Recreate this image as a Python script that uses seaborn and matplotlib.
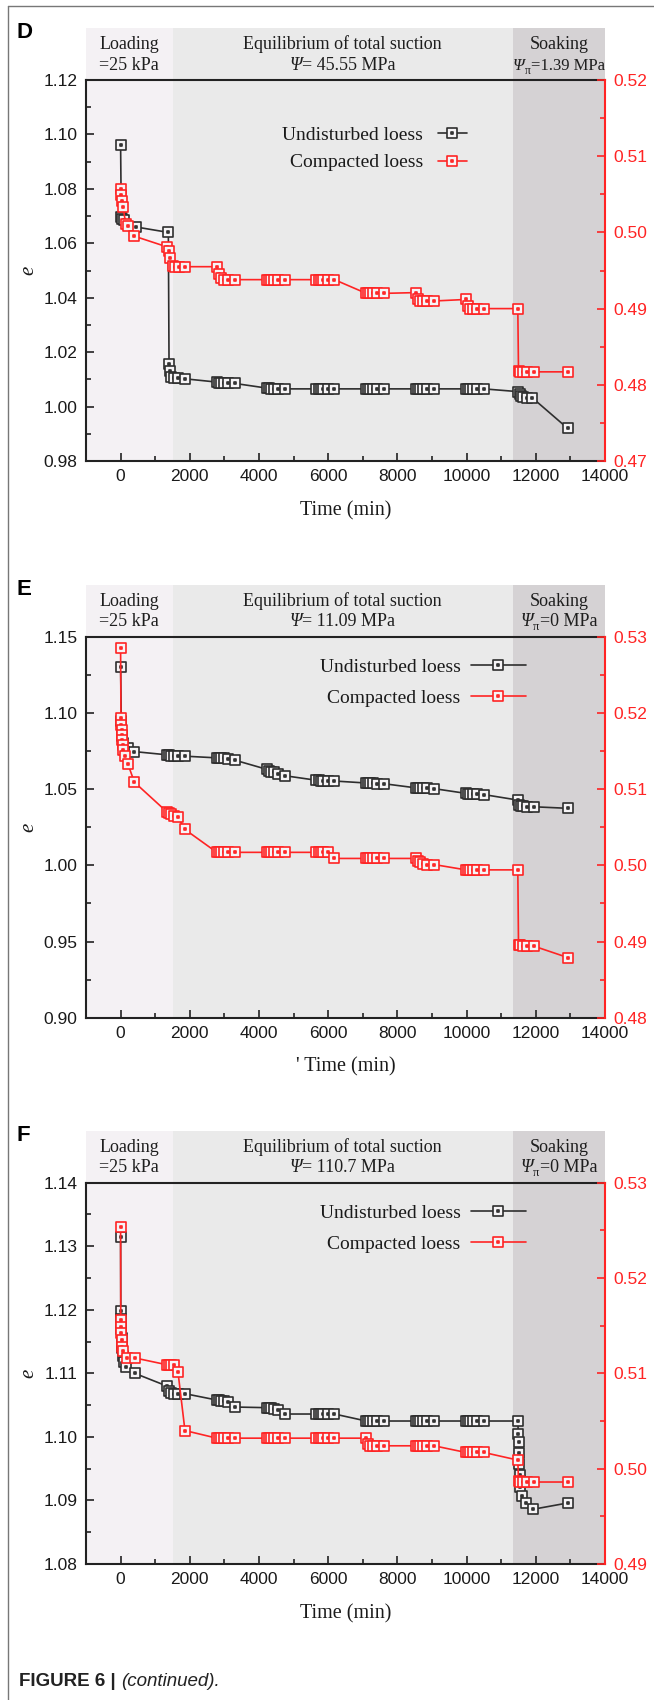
import matplotlib
matplotlib.use("Agg")
import matplotlib.pyplot as plt
import matplotlib.transforms as mtrans
import seaborn as sns
import pandas as pd
from matplotlib.path import Path
from matplotlib.patches import Rectangle
from matplotlib.lines import Line2D
from matplotlib.ticker import MultipleLocator, FormatStrFormatter

# ---------------- data ----------------
# Panel D (Psi = 45.55 MPa)
d_und_t = [0, 20, 50, 100, 440, 1380, 1400, 1420, 1460, 1540, 1660, 1860,
           2780, 2840, 2900, 2980, 3100, 3300,
           4220, 4280, 4340, 4420, 4540, 4740,
           5660, 5720, 5780, 5860, 5980, 6180,
           7100, 7160, 7220, 7300, 7420, 7620,
           8540, 8600, 8660, 8740, 8860, 9060,
           9980, 10040, 10100, 10180, 10300, 10500,
           11480, 11540, 11580, 11640, 11740, 11900,
           12920]
d_und_e = [1.096, 1.0695, 1.069, 1.0685, 1.066, 1.064, 1.0155, 1.013, 1.011, 1.0105, 1.0104, 1.0102,
           1.0090, 1.0088, 1.0087, 1.0086, 1.0085, 1.0085,
           1.0068, 1.0067, 1.0066, 1.0066, 1.0065, 1.0065,
           1.0065, 1.0065, 1.0065, 1.0065, 1.0065, 1.0065,
           1.0065, 1.0065, 1.0065, 1.0065, 1.0065, 1.0065,
           1.0065, 1.0065, 1.0065, 1.0065, 1.0065, 1.0065,
           1.0065, 1.0065, 1.0065, 1.0065, 1.0065, 1.0065,
           1.0055, 1.0045, 1.0038, 1.0035, 1.0033, 1.0032,
           0.992]
d_cmp_t = [0, 15, 35, 70, 150, 220, 400, 1340, 1400, 1440, 1500, 1580, 1680, 1860,
           2780, 2840, 2900, 2980, 3100, 3300,
           4220, 4280, 4340, 4420, 4540, 4740,
           5660, 5720, 5780, 5860, 5980, 6180,
           7100, 7160, 7220, 7300, 7420, 7620,
           8540, 8600, 8660, 8740, 8860, 9060,
           9980, 10040, 10100, 10180, 10300, 10500,
           11480, 11500, 11540, 11620, 11740, 11940,
           12920]
d_cmp_e = [0.5057, 0.5049, 0.5041, 0.5033, 0.5011, 0.5009, 0.4995, 0.4981, 0.4975, 0.4967, 0.4956, 0.4955, 0.4955, 0.4955,
           0.4955, 0.4946, 0.4940, 0.4938, 0.4938, 0.4938,
           0.4938, 0.4938, 0.4938, 0.4938, 0.4938, 0.4938,
           0.4938, 0.4938, 0.4938, 0.4938, 0.4938, 0.4938,
           0.4920, 0.4920, 0.4920, 0.4920, 0.4920, 0.4920,
           0.4921, 0.4913, 0.4910, 0.4910, 0.4910, 0.4910,
           0.4912, 0.4904, 0.4900, 0.4900, 0.4900, 0.4900,
           0.4900, 0.4818, 0.4817, 0.4817, 0.4817, 0.4817,
           0.4817]

# Panel E (Psi = 11.09 MPa)
e_und_t = [0, 20, 40, 80, 200, 400, 1340, 1400, 1460, 1540, 1660, 1860,
           2780, 2840, 2900, 2980, 3100, 3300,
           4220, 4280, 4340, 4420, 4540, 4740,
           5660, 5720, 5780, 5860, 5980, 6180,
           7100, 7160, 7220, 7300, 7420, 7620,
           8540, 8600, 8660, 8740, 8860, 9060,
           9980, 10040, 10100, 10180, 10300, 10500,
           11480, 11520, 11560, 11640, 11760, 11940,
           12920]
e_und_e = [1.130, 1.095, 1.085, 1.080, 1.077, 1.0746, 1.0725, 1.0722, 1.0720, 1.0718, 1.0717, 1.0716,
           1.0705, 1.0704, 1.0703, 1.0702, 1.0700, 1.0690,
           1.0630, 1.0622, 1.0615, 1.0610, 1.0600, 1.0588,
           1.0558, 1.0557, 1.0556, 1.0555, 1.0554, 1.0553,
           1.0540, 1.0539, 1.0538, 1.0537, 1.0536, 1.0535,
           1.0508, 1.0507, 1.0506, 1.0505, 1.0504, 1.0503,
           1.0472, 1.0471, 1.0470, 1.0468, 1.0466, 1.0464,
           1.0428, 1.0395, 1.0388, 1.0386, 1.0385, 1.0384,
           1.0374]
e_cmp_t = [0, 10, 20, 30, 40, 50, 60, 80, 120, 210, 400, 1340, 1400, 1460, 1540, 1660, 1860,
           2780, 2840, 2900, 2980, 3100, 3300,
           4220, 4280, 4340, 4420, 4540, 4740,
           5660, 5720, 5780, 5860, 5980, 6180,
           7100, 7160, 7220, 7300, 7420, 7620,
           8540, 8600, 8660, 8740, 8860, 9060,
           9980, 10040, 10100, 10180, 10300, 10500,
           11480, 11500, 11540, 11620, 11740, 11940,
           12920]
e_cmp_e = [0.5285, 0.5193, 0.5184, 0.5177, 0.5171, 0.5164, 0.5158, 0.5151, 0.5143, 0.5133, 0.5109,
           0.5070, 0.5068, 0.5067, 0.5065, 0.5063, 0.5047,
           0.5017, 0.5017, 0.5017, 0.5017, 0.5017, 0.5017,
           0.5017, 0.5017, 0.5017, 0.5017, 0.5017, 0.5017,
           0.5017, 0.5017, 0.5017, 0.5017, 0.5017, 0.5009,
           0.5009, 0.5009, 0.5009, 0.5009, 0.5009, 0.5009,
           0.5009, 0.5006, 0.5004, 0.5002, 0.5001, 0.5001,
           0.4994, 0.4994, 0.4994, 0.4994, 0.4994, 0.4994,
           0.4994, 0.4896, 0.4895, 0.4894, 0.4894, 0.4894,
           0.4879]

# Panel F (Psi = 110.7 MPa)
f_und_t = [0, 5, 10, 20, 30, 45, 70, 110, 160, 410, 1340, 1400, 1460, 1540, 1660, 1860,
           2780, 2840, 2900, 2980, 3100, 3300,
           4220, 4280, 4340, 4420, 4540, 4740,
           5660, 5720, 5780, 5860, 5980, 6180,
           7100, 7160, 7220, 7300, 7420, 7620,
           8540, 8600, 8660, 8740, 8860, 9060,
           9980, 10040, 10100, 10180, 10300, 10500,
           11480, 11495, 11505, 11515, 11525, 11535, 11550, 11590, 11710, 11910,
           12920]
f_und_e = [1.1315, 1.1198, 1.1185, 1.1170, 1.1155, 1.1140, 1.1128, 1.1118, 1.1110, 1.1100,
           1.1080, 1.1072, 1.1069, 1.1068, 1.1068, 1.1068,
           1.1058, 1.1058, 1.1057, 1.1057, 1.1055, 1.1047,
           1.1046, 1.1046, 1.1045, 1.1044, 1.1042, 1.1036,
           1.1036, 1.1036, 1.1036, 1.1036, 1.1036, 1.1036,
           1.1025, 1.1025, 1.1025, 1.1025, 1.1025, 1.1025,
           1.1025, 1.1025, 1.1025, 1.1025, 1.1025, 1.1025,
           1.1025, 1.1025, 1.1025, 1.1025, 1.1025, 1.1025,
           1.1025, 1.1004, 1.0992, 1.0974, 1.0958, 1.0940, 1.0921, 1.0907, 1.0896, 1.0886,
           1.0896]
f_cmp_t = [0, 5, 10, 20, 30, 45, 70, 190, 430, 1340, 1400, 1460, 1540, 1660, 1860,
           2780, 2840, 2900, 2980, 3100, 3300,
           4220, 4280, 4340, 4420, 4540, 4740,
           5660, 5720, 5780, 5860, 5980, 6180,
           7100, 7160, 7220, 7300, 7420, 7620,
           8540, 8600, 8660, 8740, 8860, 9060,
           9980, 10040, 10100, 10180, 10300, 10500,
           11480, 11500, 11540, 11620, 11740, 11940,
           12920]
f_cmp_e = [0.5254, 0.5156, 0.5149, 0.5142, 0.5135, 0.5128, 0.5123, 0.5116, 0.5116,
           0.5109, 0.5109, 0.5109, 0.5109, 0.5101, 0.5040,
           0.5032, 0.5032, 0.5032, 0.5032, 0.5032, 0.5032,
           0.5032, 0.5032, 0.5032, 0.5032, 0.5032, 0.5032,
           0.5032, 0.5032, 0.5032, 0.5032, 0.5032, 0.5032,
           0.5032, 0.5026, 0.5024, 0.5024, 0.5024, 0.5024,
           0.5024, 0.5024, 0.5024, 0.5024, 0.5024, 0.5024,
           0.5017, 0.5017, 0.5017, 0.5017, 0.5017, 0.5017,
           0.5009, 0.4987, 0.4986, 0.4986, 0.4986, 0.4986,
           0.4986]

stage_edges = [-1000, 1500, 11330, 14000]
stage_top = ["Loading", "Equilibrium of total suction", "Soaking"]
# second header line: (text, is_italic, is_subscript) pieces
d_stage_bottom = [[("=25 kPa", 0, 0)],
                  [("Ψ", 1, 0), ("= 45.55 MPa", 0, 0)],
                  [("Ψ", 1, 0), ("π", 0, 1), ("=1.39 MPa", 0, 0)]]
e_stage_bottom = [[("=25 kPa", 0, 0)],
                  [("Ψ", 1, 0), ("= 11.09 MPa", 0, 0)],
                  [("Ψ", 1, 0), ("π", 0, 1), ("=0 MPa", 0, 0)]]
f_stage_bottom = [[("=25 kPa", 0, 0)],
                  [("Ψ", 1, 0), ("= 110.7 MPa", 0, 0)],
                  [("Ψ", 1, 0), ("π", 0, 1), ("=0 MPa", 0, 0)]]
series_names = ["Undisturbed loess", "Compacted loess"]

# ---------------- style ----------------
sns.set_theme(style="white")
plt.rcParams["font.family"] = ["Liberation Sans", "DejaVu Sans"]

BLACK = "#2e2e2e"
RED = "#ff2424"
FACE = "#f6f4f6"
BG = ["#f4f1f4", "#eaeaea", "#d5d2d4"]
SERIF = "Liberation Serif"
HDR = 13

# square marker with a small centre dot (same stroke)
verts = [(-1, -1), (1, -1), (1, 1), (-1, 1), (-1, -1),
         (-0.12, -0.12), (0.12, -0.12), (0.12, 0.12), (-0.12, 0.12), (-0.12, -0.12)]
codes = [Path.MOVETO, Path.LINETO, Path.LINETO, Path.LINETO, Path.CLOSEPOLY] * 2
MK = Path(verts, codes)
MSIZE = 7.3
MEW = 1.2

W, H = 654, 1700
fig = plt.figure(figsize=(W / 100, H / 100), dpi=100)
fig.patch.set_facecolor("white")
renderer = fig.canvas.get_renderer()

# outer frame lines
fig.add_artist(Line2D([8 / W, 8 / W], [0, 1 - 6 / H], color="#777777", lw=1.0))
fig.add_artist(Line2D([8 / W, 1], [1 - 6 / H, 1 - 6 / H], color="#777777", lw=1.0))


def rich_text(ax, xc, yb, pieces, size):
    """Place a run of text pieces centred at data-x xc, baseline at axes-y yb."""
    widths = []
    for s, it, sub in pieces:
        tmp = fig.text(0, 0, s, family=SERIF, fontsize=size * (0.7 if sub else 1.0),
                       style="italic" if it else "normal")
        widths.append(tmp.get_window_extent(renderer).width)
        tmp.remove()
    x_off = -sum(widths) / 2
    base = ax.get_xaxis_transform()
    for (s, it, sub), w in zip(pieces, widths):
        tr = mtrans.offset_copy(base, fig=fig, x=x_off, y=(-4 if sub else 0), units="dots")
        ax.text(xc, yb, s, transform=tr, ha="left", va="baseline", family=SERIF,
                fontsize=size * (0.7 if sub else 1.0), style="italic" if it else "normal",
                color="#1e1e1e", clip_on=False)
        x_off += w


panels = [
    dict(letter="D", top=80, bottom=461, ylim=(0.98, 1.12), ymaj=0.02, ymin=0.01,
         y2lim=(0.47, 0.52), y2maj=0.01, y2min=0.005, soak_size=12,
         und=(d_und_t, d_und_e), cmp=(d_cmp_t, d_cmp_e), sub=d_stage_bottom,
         leg_x=0.734, leg_y=0.878, hl=1.5, lsp=0.5, htp=0.75, xlabel="Time (min)"),
    dict(letter="E", top=636.7, bottom=1017.7, ylim=(0.90, 1.15), ymaj=0.05, ymin=0.025,
         y2lim=(0.48, 0.53), y2maj=0.01, y2min=0.005, soak_size=13,
         und=(e_und_t, e_und_e), cmp=(e_cmp_t, e_cmp_e), sub=e_stage_bottom,
         leg_x=0.847, leg_y=0.943, hl=2.8, lsp=0.7, htp=0.55, xlabel="' Time (min)"),
    dict(letter="F", top=1182.7, bottom=1564, ylim=(1.08, 1.14), ymaj=0.01, ymin=0.005,
         y2lim=(0.49, 0.53), y2maj=0.01, y2min=0.005, soak_size=13,
         und=(f_und_t, f_und_e), cmp=(f_cmp_t, f_cmp_e), sub=f_stage_bottom,
         leg_x=0.847, leg_y=0.944, hl=2.8, lsp=0.7, htp=0.55, xlabel="Time (min)"),
]

AX_L, AX_R = 86, 605
BAND = 0.136

for p in panels:
    ax = fig.add_axes([AX_L / W, 1 - p["bottom"] / H, (AX_R - AX_L) / W, (p["bottom"] - p["top"]) / H])
    ax.set_facecolor("none")
    ax.set_xlim(-1000, 14000)
    ax.set_ylim(*p["ylim"])

    # stage backgrounds (also extend over the header band)
    for i in range(3):
        ax.add_patch(Rectangle((stage_edges[i], 0), stage_edges[i + 1] - stage_edges[i], 1 + BAND,
                               transform=ax.get_xaxis_transform(), facecolor=BG[i],
                               edgecolor="none", clip_on=False, zorder=0))
        xc = 0.5 * (stage_edges[i] + stage_edges[i + 1])
        ax.text(xc, 1.081, stage_top[i], transform=ax.get_xaxis_transform(), ha="center",
                va="baseline", fontsize=HDR, family=SERIF, color="#1e1e1e")
        rich_text(ax, xc, 1.027, p["sub"][i], HDR if i < 2 else p["soak_size"])

    ax2 = ax.twinx()
    ax2.set_ylim(*p["y2lim"])

    und = pd.DataFrame({"t": p["und"][0], "e": p["und"][1]})
    cmp_ = pd.DataFrame({"t": p["cmp"][0], "e": p["cmp"][1]})

    sns.lineplot(data=und, x="t", y="e", ax=ax, sort=False, estimator=None,
                 color=BLACK, lw=1.2, zorder=2)
    sns.scatterplot(data=und, x="t", y="e", ax=ax, marker=MK, s=MSIZE ** 2, color=BLACK,
                    facecolor=FACE, edgecolor=BLACK, linewidth=MEW, zorder=3)
    sns.lineplot(data=cmp_, x="t", y="e", ax=ax2, sort=False, estimator=None,
                 color=RED, lw=1.2, zorder=2)
    sns.scatterplot(data=cmp_, x="t", y="e", ax=ax2, marker=MK, s=MSIZE ** 2, color=RED,
                    facecolor=FACE, edgecolor=RED, linewidth=MEW, zorder=3)

    # axes styling
    ax.set_xlim(-1000, 14000)
    ax.xaxis.set_major_locator(MultipleLocator(2000))
    ax.xaxis.set_minor_locator(MultipleLocator(1000))
    ax.yaxis.set_major_locator(MultipleLocator(p["ymaj"]))
    ax.yaxis.set_minor_locator(MultipleLocator(p["ymin"]))
    ax.yaxis.set_major_formatter(FormatStrFormatter("%.2f"))
    ax2.yaxis.set_major_locator(MultipleLocator(p["y2maj"]))
    ax2.yaxis.set_minor_locator(MultipleLocator(p["y2min"]))
    ax2.yaxis.set_major_formatter(FormatStrFormatter("%.2f"))

    for s in ["left", "bottom", "top"]:
        ax.spines[s].set_color("#222222")
        ax.spines[s].set_linewidth(1.5)
        ax.spines[s].set_visible(True)
    ax.spines["right"].set_visible(False)
    for s in ["left", "bottom", "top"]:
        ax2.spines[s].set_visible(False)
    ax2.spines["right"].set_visible(True)
    ax2.spines["right"].set_color(RED)
    ax2.spines["right"].set_linewidth(1.5)

    ax.tick_params(axis="both", which="both", direction="in", color="#222222", width=1.2,
                   top=False, right=False, left=True, bottom=True)
    ax.tick_params(which="major", length=6, labelsize=12.5, pad=6, labelcolor="#1a1a1a")
    ax.tick_params(which="minor", length=3.5)
    ax2.tick_params(axis="y", which="both", direction="in", color=RED, width=1.2,
                    labelcolor=RED, right=True, left=False)
    ax2.tick_params(axis="y", which="major", length=6, labelsize=12.5, pad=6)
    ax2.tick_params(axis="y", which="minor", length=3.5)
    for lab in ax.get_xticklabels() + ax.get_yticklabels() + ax2.get_yticklabels():
        lab.set_family("Liberation Sans")

    ax.set_xlabel(p["xlabel"], family=SERIF, fontsize=14.5, labelpad=12, color="#1a1a1a")
    ax.set_ylabel("e", family=SERIF, style="italic", fontsize=15, labelpad=4, color="#1a1a1a")
    ax2.set_ylabel("")

    handles = [
        Line2D([], [], color=BLACK, lw=1.2, marker=MK, markersize=MSIZE, markerfacecolor=FACE,
               markeredgecolor=BLACK, markeredgewidth=MEW),
        Line2D([], [], color=RED, lw=1.2, marker=MK, markersize=MSIZE, markerfacecolor=FACE,
               markeredgecolor=RED, markeredgewidth=MEW),
    ]
    leg = ax2.legend(handles, series_names, loc="upper right", bbox_to_anchor=(p["leg_x"], p["leg_y"]),
                     frameon=False, markerfirst=False, borderaxespad=0, borderpad=0,
                     handlelength=p["hl"], handletextpad=p["htp"], labelspacing=p["lsp"],
                     prop={"family": SERIF, "size": 14})
    for txt in leg.get_texts():
        txt.set_color("#1a1a1a")

    fig.text(17 / W, 1 - (p["top"] - 47) / H, p["letter"], fontsize=16, fontweight="bold",
             ha="left", va="center", family="Liberation Sans", color="black")

# caption
t1 = fig.text(19 / W, 1 - 1681 / H, "FIGURE 6 | ", fontsize=13.5, fontweight="bold",
              ha="left", va="center", family="Liberation Sans", color="#222222")
bb = t1.get_window_extent(renderer=renderer)
fig.text(bb.x1 / W, 1 - 1681 / H, "(continued).", fontsize=13.5, style="italic",
         ha="left", va="center", family="Liberation Sans", color="#222222")

fig.savefig("out.png", dpi=100, facecolor="white")
